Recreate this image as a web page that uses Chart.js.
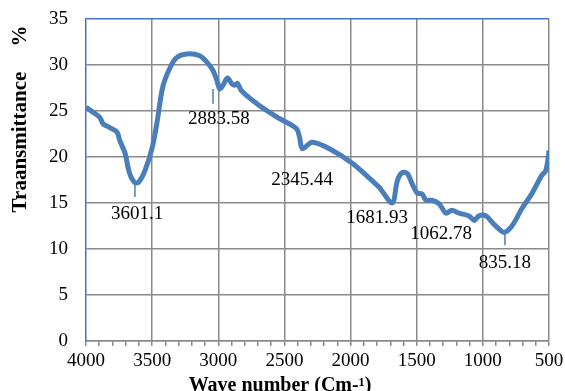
<!DOCTYPE html>
<html>
<head>
<meta charset="utf-8">
<script src="https://cdn.jsdelivr.net/npm/chart.js@4.4.1/dist/chart.umd.min.js"></script>
<style>
  html, body { margin: 0; padding: 0; background: #fff; }
  #wrap { width: 565px; height: 391px; position: relative; }
</style>
</head>
<body>
<div id="wrap"><canvas id="ftirChart"></canvas></div>
<script>
// spectrum (wave number, transmittance %)
const waveNumbers = [4000, 3930, 3895, 3870, 3820, 3765, 3745, 3705, 3670, 3630, 3600, 3555, 3500, 3465, 3420, 3365, 3315, 3240, 3140, 3080, 3040, 3010, 2990, 2965, 2930, 2900, 2875, 2855, 2825, 2690, 2540, 2410, 2385, 2365, 2290, 2160, 1985, 1835, 1783, 1685, 1647, 1610, 1570, 1535, 1497, 1460, 1430, 1385, 1330, 1280, 1235, 1180, 1105, 1065, 1030, 975, 930, 880, 840, 780, 705, 630, 555, 525, 505, 500];
const transmittance = [25.4, 24.7, 24.3, 23.6, 23.2, 22.7, 21.8, 20.4, 18.2, 17.2, 17.3, 18.5, 21.0, 23.6, 27.6, 29.7, 30.8, 31.2, 31.0, 30.2, 29.4, 28.3, 27.4, 27.8, 28.6, 28.0, 27.8, 28.0, 27.2, 25.6, 24.2, 23.1, 22.1, 20.9, 21.6, 20.9, 19.3, 17.4, 16.7, 15.0, 17.4, 18.3, 18.2, 17.1, 16.1, 16.0, 15.3, 15.3, 14.9, 13.9, 14.2, 13.9, 13.6, 13.1, 13.6, 13.6, 12.9, 12.2, 11.8, 12.5, 14.4, 16.0, 18.0, 18.5, 20.0, 20.7];

// peak labels and where they sit
const peakLabels = ["3601.1", "2883.58", "2345.44", "1681.93", "1062.78", "835.18"];
const labelX = [3614, 2995, 2367, 1800, 1316, 833];
const labelY = [13.8, 24.1, 17.5, 13.4, 11.6, 8.5];

// small marker lines under some peaks
const markerX = [3630, 3040, 833];
const markerTop = [17.5, 27.4, 11.85];
const markerBottom = [15.65, 25.8, 10.4];

const blue = "#4a7ebb";
const gridGray = "#8a8a8a";
const serif = "'Liberation Serif', 'Times New Roman', serif";

const spectrum = waveNumbers.map((w, i) => ({ x: w, y: transmittance[i] }));

const markerSets = markerX.map((mx, i) => ({
  data: [{ x: mx, y: markerTop[i] }, { x: mx, y: markerBottom[i] }],
  showLine: true,
  borderColor: blue,
  borderWidth: 1.5,
  pointRadius: 0,
}));

const peakText = {
  id: "peakText",
  afterDatasetsDraw(chart) {
    const { ctx, scales } = chart;
    ctx.save();
    ctx.fillStyle = "#000";
    ctx.font = "19px " + serif;
    ctx.textAlign = "center";
    ctx.textBaseline = "middle";
    peakLabels.forEach((t, i) => {
      ctx.fillText(t, scales.x.getPixelForValue(labelX[i]), scales.y.getPixelForValue(labelY[i]));
    });
    ctx.restore();
  },
  afterDraw(chart) {
    const { ctx, chartArea } = chart;
    ctx.save();
    ctx.fillStyle = "#000";
    ctx.textBaseline = "middle";
    // x title
    ctx.font = "bold 20px " + serif;
    ctx.textAlign = "center";
    ctx.fillText("Wave number (Cm-¹)", chartArea.left + 194, 386);
    // y title
    ctx.font = "bold 21px " + serif;
    ctx.translate(21, 0);
    ctx.rotate(-Math.PI / 2);
    ctx.fillText("Traansmittance", -142, 0);
    ctx.fillText("%", -36, 0);
    ctx.restore();
  },
};

new Chart(document.getElementById("ftirChart"), {
  type: "scatter",
  data: {
    datasets: [
      {
        data: spectrum,
        showLine: true,
        borderColor: blue,
        borderWidth: 5,
        tension: 0.3,
        pointRadius: 0,
      },
      ...markerSets,
    ],
  },
  options: {
    responsive: true,
    maintainAspectRatio: false,
    animation: false,
    layout: { padding: { top: 19, right: 16, bottom: 0, left: 0 } },
    plugins: { legend: { display: false }, tooltip: { enabled: false } },
    scales: {
      x: {
        type: "linear",
        reverse: true,
        min: 500,
        max: 4000,
        afterFit: (s) => {
          s.height = 50;
          s.paddingLeft = 0;
          s.paddingRight = 0;
        },
        ticks: {
          stepSize: 100,
          autoSkip: false,
          maxRotation: 0,
          padding: 4,
          color: "#000",
          font: { family: serif, size: 19 },
          callback: (v) => (v % 500 === 0 ? v : ""),
        },
        grid: {
          color: (c) => (c.tick && c.tick.value % 500 === 0 && c.tick.value !== 4000 ? gridGray : "rgba(0,0,0,0)"),
          tickColor: gridGray,
          tickLength: 5,
          lineWidth: 1.5,
        },
        border: { color: gridGray, width: 1.5 },
      },
      y: {
        min: 0,
        max: 35,
        afterFit: (s) => {
          s.width = 86;
          s.paddingTop = 0;
          s.paddingBottom = 0;
        },
        ticks: {
          stepSize: 5,
          padding: 18,
          color: "#000",
          font: { family: serif, size: 19 },
        },
        grid: {
          color: (c) => (c.tick && c.tick.value === 35 ? "#4472c4" : gridGray),
          lineWidth: 1.5,
          drawTicks: false,
        },
        border: { color: "#4472c4", width: 1.5 },
      },
    },
  },
  plugins: [peakText],
});
</script>
</body>
</html>
